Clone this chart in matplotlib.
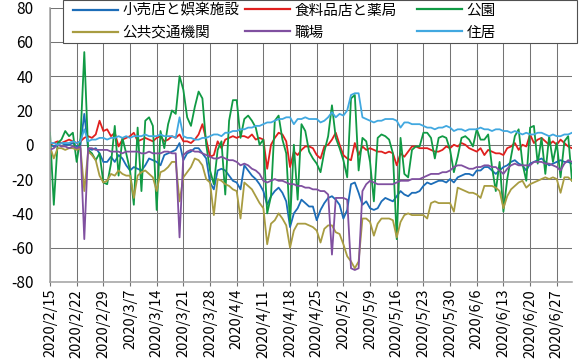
import matplotlib
matplotlib.use("Agg")
import matplotlib.pyplot as plt
from matplotlib.patches import Rectangle
from matplotlib.lines import Line2D
import pandas as pd

plt.rcParams['font.family'] = ['Noto Sans CJK JP', 'DejaVu Sans']
plt.rcParams['axes.unicode_minus'] = False

# ---- data: 2020/2/15 .. 2020/7/1, one value per day ----
dates = pd.date_range('2020-02-15', '2020-07-01', freq='D')

labels = ['小売店と娯楽施設', '食料品店と薬局', '公園', '公共交通機関', '職場', '住居']

retail = [0, -1, 0, 1, 0, 0, 1, -1, 0, 18,
          -2, -3, -2, -5, -10, -10, -7, -10, -6, -8, -12,
          -15, -13, -14, -15, -12, -8, -9, -10, -12, -6, -5, -4, -3,
          1,
          -9, -5, -4, -2, -2, -5, -8,
          -22, -26, -15, -14, -15, -18, -21,
          -22, -26, -12, -15, -18, -20, -23,
          -27, -35, -30, -27, -25, -28, -33,
          -48, -40, -37, -32, -34, -36, -36, -44, -38, -34, -31, -30, -32, -35, -43, -38, -23, -22, -28,
          -35, -33, -37, -38, -37, -33, -31, -32, -33, -30, -27, -29, -30, -28, -28, -27, -24,
          -22, -23, -22, -21, -21, -22, -20, -22, -19, -18, -17, -17, -18,
          -15, -15, -13, -13, -15, -17, -15, -13, -12, -10, -9, -11, -12, -15,
          -11, -10, -9, -8, -10, -12, -11, -10, -9, -10, -10, -11]

food = [0, 1, 2, 1, 2, 3, 2, 1, 2, 4,
        5, 4, 6, 14, 8, 9, 5, 7, -1, 3, 4,
        5, 7, 2, 3, 4, 3, 2, 4, 5, 2, 3, 5, 4,
        6,
        2, 2, 1, 3, 6, 12, 3,
        -7, -6, 2, -2, 3, 4, 5,
        4, 5, 5, 4, 6, 3, 4,
        3, -14, 0, 4, 7, 6, 2,
        -13, -4, -6, -3, -1, -1, -2, -6, -8, -1, 0, 3, 7, 0, -6, -8, -9, 1, -6,
        -1, -3, -2, -3, -4, -4, -5, -4, -5, -12, -5, -7, -4, -1, -1, -2, -2,
        -2, -3, -4, -4, -3, -1, -2, 0, -1, 1, 0, -2, -3,
        -4, -2, -6, -3, -4, -5, -5, -6, -2, -1, 1, -3, 0, -1,
        6, 1, 3, 4, 2, 0, 2, 0, 3, 1, -1, -2]

park = [7, -35, 1, 3, 8, 5, 7, -10, 4, 54,
        -3, -5, -9, -5, -22, -23, -11, 11, -18, 4, -5,
        -15, -35, 10, -27, 14, 16, 11, -38, 8, -2, 12, 20, 18,
        40,
        32, 16, 11, 22, 31, 27, 0,
        -15, -23, -3, 2, -29, 14, 26,
        26, 4, 15, 17, 14, 10, 0,
        3, -40, -30, 14, 17, 3, -5,
        -46, 0, -32, 12, 8, -4, -8, -11, -16, -4, 5, 23, 4, -2, -9, -19, 27, 29, -15,
        4, 2, -10, -33, 4, 6, 5, 3, -5, -55, 4, -17, -19, -3, -1, -1, 7,
        7, 4, -8, 4, 5, 4, -3, -16, -7, 4, 5, 3, -1,
        9, 3, 3, 6, -13, -27, -10, -39, -20, -7, 5, 9, -11, -21,
        10, 11, -11, 4, -17, 5, -10, 1, -19, 2, 5, -21]

transit = [-1, -8, -2, -2, -3, -2, -2, -3, -2, -27,
           -4, -6, -9, -18, -22, -21, -17, -18, -15, -17, -18,
           -18, -31, -18, -16, -15, -17, -19, -27, -16, -15, -13, -10, -10,
           -33,
           -19, -16, -13, -8, -9, -12, -20,
           -22, -41, -20, -21, -23, -24, -26,
           -27, -43, -22, -24, -26, -30, -34,
           -37, -58, -46, -44, -40, -43, -47,
           -60, -50, -46, -46, -46, -47, -48, -50, -57, -49, -47, -47, -51, -52, -58, -65, -68, -72, -68,
           -43, -43, -45, -53, -46, -43, -43, -43, -44, -54, -45, -41, -40, -41, -41, -41, -41,
           -43, -34, -33, -34, -34, -34, -34, -39, -25, -26, -27, -28, -28,
           -29, -31, -24, -24, -24, -25, -27, -37, -30, -26, -24, -22, -21, -25,
           -23, -22, -21, -20, -19, -20, -19, -20, -28, -19, -19, -21]

work = [-3, -2, 0, -1, -1, -2, -1, -2, -1, -55,
        -2, -2, -3, -3, -3, -3, -4, -4, -4, -5, -4,
        -4, -4, -4, -5, -5, -4, -5, -5, -5, -4, -4, -5, -5,
        -54,
        -6, -4, -3, -4, -4, -5, -6,
        -7, -8, -8, -7, -8, -9, -9,
        -10, -12, -11, -12, -14, -15, -17,
        -21, -22, -21, -20, -21, -21, -22,
        -23, -23, -24, -24, -25, -25, -26, -26, -27, -27, -29, -64, -31, -31, -31, -32, -72, -73, -72,
        -27, -23, -21, -22, -23, -23, -23, -23, -23, -22, -21, -21, -21, -20, -20, -20, -19,
        -18, -17, -17, -17, -16, -16, -15, -13, -12, -12, -13, -14, -14,
        -13, -13, -12, -12, -13, -13, -15, -17, -14, -12, -11, -12, -12, -12,
        -12, -10, -10, -10, -11, -11, -12, -13, -15, -11, -9, -10]

res = [1, 1, 0, 1, 1, 1, 2, 1, 2, 9,
       2, 3, 3, 4, 4, 3, 4, 4, 5, 4, 5,
       4, 5, 5, 5, 6, 5, 5, 5, 6, 5, 5, 5, 4,
       16,
       5, 4, 4, 3, 3, 4, 4,
       5, 6, 6, 5, 7, 7, 8,
       8, 9, 9, 10, 10, 11, 11,
       12, 13, 13, 14, 15, 15, 16,
       16, 12, 15, 15, 16, 15, 15, 15, 13, 14, 16, 19, 16, 18, 17, 20, 29, 30, 30,
       16, 15, 14, 13, 14, 14, 15, 15, 15, 14, 10, 13, 13, 12, 12, 12, 11,
       10, 10, 9, 10, 10, 11, 10, 8, 9, 9, 8, 9, 9,
       9, 10, 9, 9, 8, 9, 9, 8, 8, 7, 8, 7, 6, 7,
       6, 6, 7, 7, 6, 5, 6, 5, 5, 6, 6, 7]

series = [retail, food, park, transit, work, res]
colors = ['#1C6DB8', '#E0201E', '#109A44', '#A89C41', '#8050A0', '#41A8E0']

W, H = 582, 364
fig = plt.figure(figsize=(W / 100, H / 100), dpi=100)
ax = fig.add_axes([50 / W, 1 - 282 / H, 522 / W, 274.5 / H])

for vals, c, lab in zip(series, colors, labels):
    ax.plot(dates[:len(vals)], vals, color=c, lw=1.3, label=lab)

grid_c = '#747474'
ax.set_ylim(-80, 80)
ax.set_yticks(range(-80, 81, 20))
ax.set_xlim(dates[0], dates[-1])
ticks = dates[::7]
ax.set_xticks(ticks)
ax.set_xticklabels([f'{d.year}/{d.month}/{d.day}' for d in ticks], rotation=90)
ax.grid(True, color=grid_c, lw=0.75)
ax.set_axisbelow(True)
for s in ['top', 'right']:
    ax.spines[s].set_visible(False)
for s in ['left', 'bottom']:
    ax.spines[s].set_color('#a0a0a0')
    ax.spines[s].set_linewidth(1.1)
ax.tick_params(axis='y', length=0, pad=12, labelsize=11)
ax.tick_params(axis='x', length=3, color=grid_c, pad=2, labelsize=10.5)

# legend box spanning the top
fig.patches.append(Rectangle((63 / W, 1 - 43 / H), 514 / W, 42.5 / H,
                             transform=fig.transFigure, fc='white',
                             ec='#505050', lw=0.8, zorder=3))
col_x = [73, 245, 417]
for j in range(3):
    idx = [j, j + 3]
    hs = [Line2D([], [], color=colors[i], lw=1.6) for i in idx]
    fig.legend(hs, [labels[i] for i in idx], loc='upper left',
               bbox_to_anchor=(col_x[j] / W, 1 - 3.5 / H), frameon=False,
               borderpad=0, borderaxespad=0, handlelength=3.1,
               handletextpad=0.3, labelspacing=0.55, fontsize=10.5)

fig.savefig('out.png', dpi=100)
